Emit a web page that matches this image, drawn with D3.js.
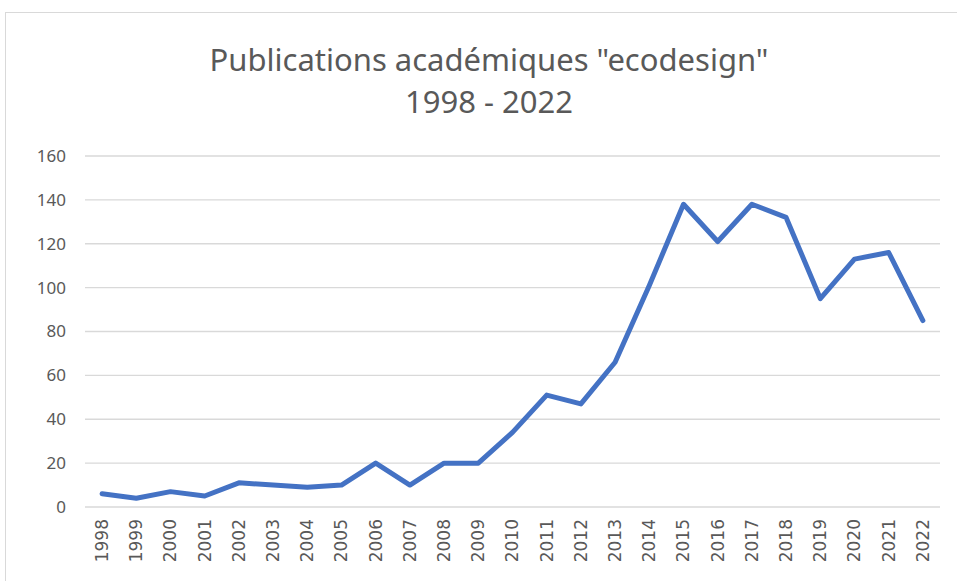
<!DOCTYPE html>
<html>
<head>
<meta charset="utf-8">
<script src="https://cdn.jsdelivr.net/npm/d3@7"></script>
<style>
  body { margin: 0; background: #fff; }
  text { font-family: "Noto Sans", "Open Sans", sans-serif; fill: #595959; }
</style>
</head>
<body>
<div id="chart"></div>
<script>
// Data
var years = ["1998", "1999", "2000", "2001", "2002", "2003", "2004", "2005", "2006", "2007",
             "2008", "2009", "2010", "2011", "2012", "2013", "2014", "2015", "2016", "2017",
             "2018", "2019", "2020", "2021", "2022"];
var publications = [6, 4, 7, 5, 11, 10, 9, 10, 20, 10,
                    20, 20, 34, 51, 47, 66, 101, 138, 121, 138,
                    132, 95, 113, 116, 85];
var yTicks = [0, 20, 40, 60, 80, 100, 120, 140, 160];

var width = 957;
var height = 581;
var margin = { top: 156, right: 17, bottom: 74, left: 85 };

var svg = d3.select("#chart")
    .append("svg")
    .attr("width", width)
    .attr("height", height);

// Chart area border
svg.append("rect")
    .attr("x", 5.5)
    .attr("y", 12.5)
    .attr("width", width - 5)
    .attr("height", height)
    .attr("fill", "none")
    .attr("stroke", "#d9d9d9");

// Title (two lines)
svg.append("text")
    .attr("x", 489)
    .attr("y", 71)
    .attr("text-anchor", "middle")
    .style("font-size", "31px")
    .text('Publications académiques "ecodesign"');
svg.append("text")
    .attr("x", 489)
    .attr("y", 113)
    .attr("text-anchor", "middle")
    .style("font-size", "31px")
    .text("1998 - 2022");

var x = d3.scaleBand()
    .domain(years)
    .range([margin.left, width - margin.right]);

var y = d3.scaleLinear()
    .domain([0, 160])
    .range([height - margin.bottom, margin.top]);

// Gridlines
svg.append("g")
    .selectAll("line")
    .data(yTicks)
    .enter().append("line")
    .attr("x1", margin.left)
    .attr("x2", width - margin.right)
    .attr("y1", d => y(d))
    .attr("y2", d => y(d))
    .attr("stroke", "#d9d9d9")
    .attr("stroke-width", 1.3);

// Y axis labels
var yAxis = svg.append("g")
    .attr("transform", `translate(${margin.left},0)`)
    .call(d3.axisLeft(y).tickValues(yTicks).tickSize(0).tickPadding(19));
yAxis.select(".domain").remove();
yAxis.selectAll("text")
    .style("font-size", "17px")
    .style("font-family", "'Noto Sans', sans-serif")
    .attr("fill", "#595959");

// X axis labels, rotated
var xAxis = svg.append("g")
    .attr("transform", `translate(0,${height - margin.bottom})`)
    .call(d3.axisBottom(x).tickSize(0));
xAxis.select(".domain").remove();
xAxis.selectAll("text")
    .style("font-size", "17px")
    .style("font-family", "'DejaVu Sans', sans-serif")
    .attr("fill", "#595959")
    .attr("transform", "rotate(-90)")
    .attr("text-anchor", "end")
    .attr("x", -12)
    .attr("y", 0)
    .attr("dy", "0.35em");

// Line
var line = d3.line()
    .x((d, i) => x(years[i]) + x.bandwidth() / 2)
    .y(d => y(d));

svg.append("path")
    .datum(publications)
    .attr("d", line)
    .attr("fill", "none")
    .attr("stroke", "#4472c4")
    .attr("stroke-width", 5)
    .attr("stroke-linejoin", "round")
    .attr("stroke-linecap", "round");
</script>
</body>
</html>
